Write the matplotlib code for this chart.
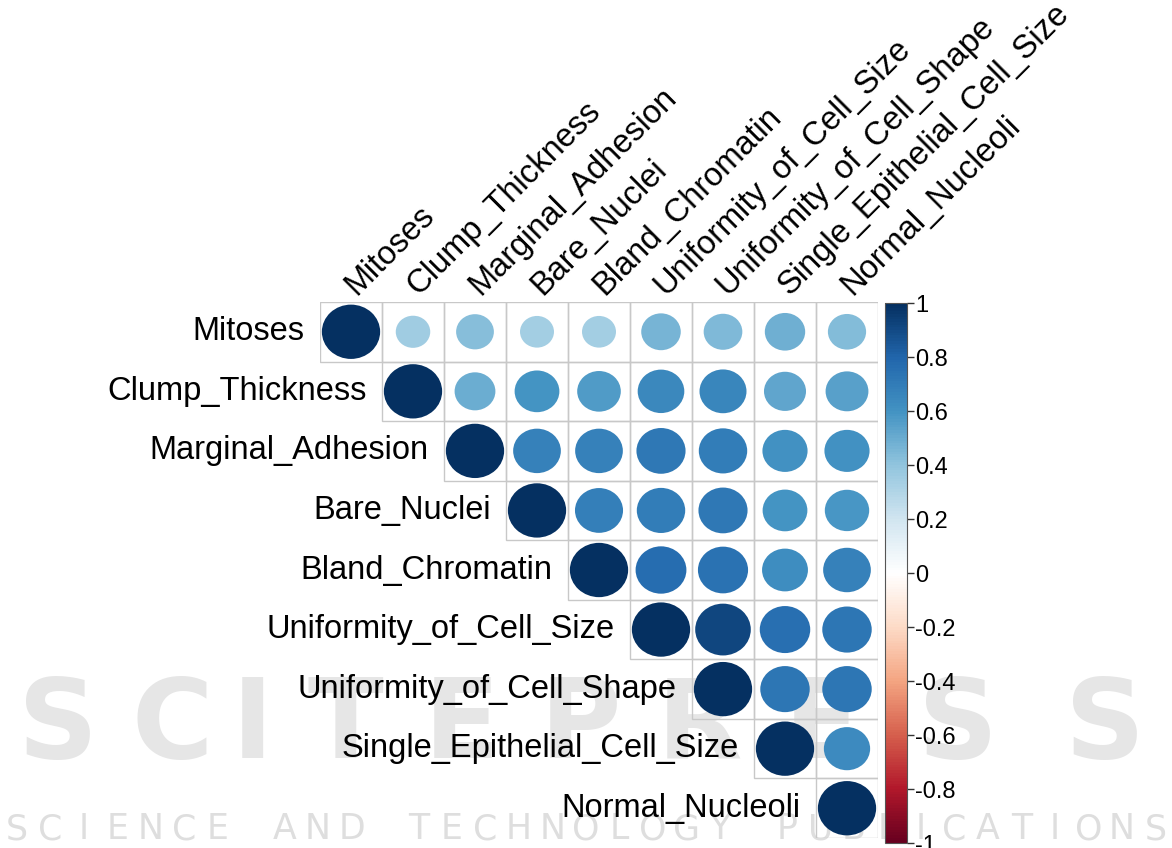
import numpy as np
import matplotlib
matplotlib.use("Agg")
import matplotlib.pyplot as plt
from matplotlib.colors import LinearSegmentedColormap, Normalize
from matplotlib.patches import Ellipse, Rectangle
from matplotlib.cm import ScalarMappable

plt.rcParams['font.family'] = ['Liberation Sans', 'DejaVu Sans']

# variable order (hclust order as in the figure)
names = ["Mitoses", "Clump_Thickness", "Marginal_Adhesion", "Bare_Nuclei",
         "Bland_Chromatin", "Uniformity_of_Cell_Size", "Uniformity_of_Cell_Shape",
         "Single_Epithelial_Cell_Size", "Normal_Nucleoli"]

# upper triangle of the correlation matrix, row by row (diagonal first)
row_mit = [1.0, 0.35, 0.42, 0.34, 0.34, 0.46, 0.44, 0.48, 0.43]
row_ct = [1.0, 0.49, 0.59, 0.56, 0.64, 0.65, 0.52, 0.54]
row_ma = [1.0, 0.67, 0.67, 0.71, 0.69, 0.60, 0.60]
row_bn = [1.0, 0.68, 0.69, 0.71, 0.59, 0.58]
row_bc = [1.0, 0.76, 0.74, 0.62, 0.67]
row_us = [1.0, 0.91, 0.75, 0.72]
row_ush = [1.0, 0.72, 0.72]
row_secs = [1.0, 0.63]
row_nn = [1.0]
upper_rows = [row_mit, row_ct, row_ma, row_bn, row_bc, row_us, row_ush, row_secs, row_nn]

cbar_ticks = [-1, -0.8, -0.6, -0.4, -0.2, 0, 0.2, 0.4, 0.6, 0.8, 1]
cbar_labels = ["-1", "-0.8", "-0.6", "-0.4", "-0.2", "0", "0.2", "0.4", "0.6", "0.8", "1"]

wm_big = "SCITEPRESS"
wm_big_x = [58, 172, 252, 345, 462, 580, 700, 822, 958, 1105]
wm_small = "SCIENCE AND TECHNOLOGY PUBLICATIONS"

# corrplot RdBu palette
col2 = ["#67001F", "#B2182B", "#D6604D", "#F4A582", "#FDDBC7", "#FFFFFF",
        "#D1E5F0", "#92C5DE", "#4393C3", "#2166AC", "#053061"]
cmap = LinearSegmentedColormap.from_list("corrRdBu", col2, N=200)
norm = Normalize(-1, 1)

W, H = 1172, 848
fig = plt.figure(figsize=(W / 100, H / 100), dpi=100)

# watermark behind everything
for ch, xc in zip(wm_big, wm_big_x):
    fig.text(xc / W, 1 - 728 / H, ch, fontsize=80, fontweight='bold', color='#e6e6e6',
             ha='center', va='center', family='DejaVu Sans', zorder=-5)
step = W / len(wm_small)
for k, ch in enumerate(wm_small):
    fig.text((k + 0.5) * step / W, 1 - 829 / H, ch, fontsize=25, color='#dedede',
             ha='center', va='center', family='DejaVu Sans', zorder=-5)

n = len(names)
ax = fig.add_axes([320 / W, 1 - 838 / H, 558 / W, 536 / H])
ax.set_xlim(0, n)
ax.set_ylim(n, 0)
ax.axis('off')

for i, row in enumerate(upper_rows):
    for k, r in enumerate(row):
        j = i + k
        ax.add_patch(Rectangle((j, i), 1, 1, facecolor='none', edgecolor='#c8c8c8',
                               linewidth=1.0, zorder=1))
        d = 0.94 * np.sqrt(abs(r))
        ax.add_patch(Ellipse((j + 0.5, i + 0.5), d, d * 0.97, facecolor=cmap(norm(r)),
                             edgecolor='none', zorder=2))
    ax.text(i - 0.25, i + 0.5, names[i], ha='right', va='center', fontsize=23.5,
            color='black', clip_on=False)
    ax.text(i + 0.58, -0.1, names[i], rotation=45, rotation_mode='anchor',
            ha='left', va='baseline', fontsize=23.5, color='black', clip_on=False)

cax = fig.add_axes([885 / W, 1 - 843 / H, 22 / W, 540 / H])
cb = fig.colorbar(ScalarMappable(norm=norm, cmap=cmap), cax=cax, ticks=cbar_ticks)
cb.ax.set_yticklabels(cbar_labels)
cb.ax.tick_params(labelsize=17, length=5, width=1, pad=1, color='#333333')
cb.outline.set_edgecolor('#555555')
cb.outline.set_linewidth(0.8)

fig.savefig("out.png", dpi=100, facecolor='white')
